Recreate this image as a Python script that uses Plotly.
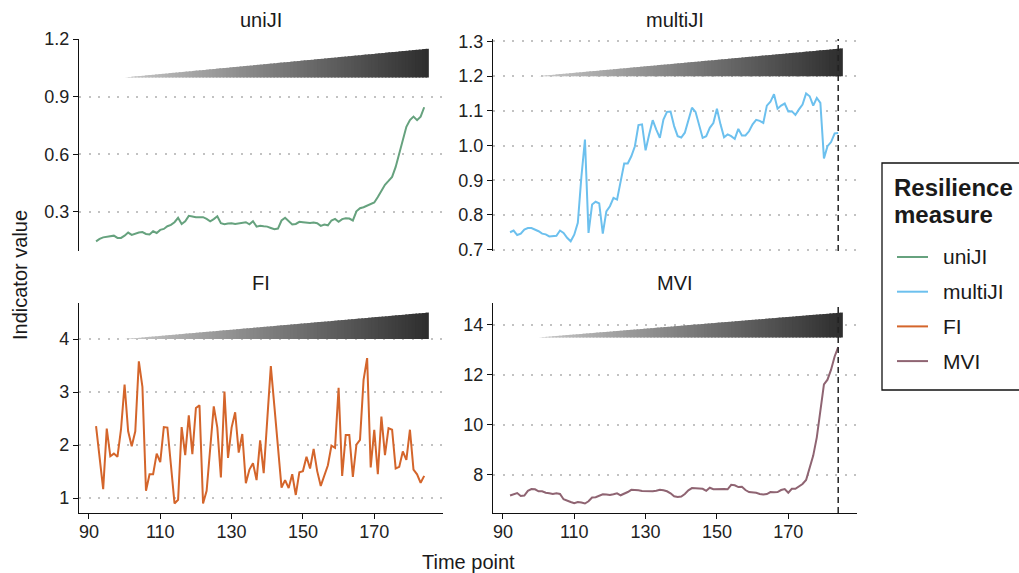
import numpy as np
import plotly.graph_objects as go

# ---------------- data ----------------
time = list(range(92, 185))

uniJI = [0.146, 0.159, 0.167, 0.170, 0.174, 0.176, 0.164, 0.164, 0.176, 0.192,
         0.180, 0.188, 0.192, 0.195, 0.185, 0.182, 0.199, 0.190, 0.206, 0.211,
         0.225, 0.232, 0.246, 0.269, 0.237, 0.251, 0.279, 0.276, 0.272, 0.272,
         0.272, 0.263, 0.251, 0.262, 0.277, 0.241, 0.235, 0.239, 0.241, 0.237,
         0.239, 0.242, 0.246, 0.235, 0.251, 0.223, 0.228, 0.225, 0.223, 0.216,
         0.209, 0.213, 0.255, 0.269, 0.251, 0.234, 0.237, 0.248, 0.246, 0.244,
         0.242, 0.244, 0.241, 0.227, 0.234, 0.230, 0.255, 0.263, 0.248, 0.262,
         0.267, 0.265, 0.255, 0.303, 0.319, 0.324, 0.331, 0.342, 0.349, 0.377,
         0.412, 0.441, 0.461, 0.482, 0.534, 0.604, 0.677, 0.743, 0.778, 0.796,
         0.778, 0.796, 0.845]

multiJI = [0.750, 0.755, 0.742, 0.746, 0.758, 0.762, 0.762, 0.758, 0.753, 0.746,
           0.744, 0.738, 0.739, 0.740, 0.755, 0.748, 0.734, 0.724, 0.743, 0.777,
           0.910, 1.017, 0.748, 0.830, 0.838, 0.833, 0.746, 0.810, 0.825, 0.849,
           0.844, 0.897, 0.948, 0.948, 0.969, 0.998, 1.059, 1.061, 0.986, 1.032,
           1.073, 1.046, 1.022, 1.075, 1.097, 1.098, 1.056, 1.027, 1.023, 1.037,
           1.070, 1.109, 1.097, 1.056, 1.022, 1.027, 1.051, 1.065, 1.106, 1.061,
           1.024, 1.032, 1.027, 1.019, 1.048, 1.029, 1.029, 1.041, 1.061, 1.074,
           1.071, 1.065, 1.115, 1.126, 1.148, 1.106, 1.115, 1.121, 1.098, 1.099,
           1.088, 1.104, 1.118, 1.150, 1.142, 1.115, 1.137, 1.123, 0.963, 0.998,
           1.010, 1.035, 1.036]

FI = [2.36, 1.75, 1.17, 2.31, 1.79, 1.84, 1.78, 2.30, 3.14, 2.26,
      1.98, 2.26, 3.58, 3.10, 1.14, 1.45, 1.45, 1.84, 1.68, 2.34,
      2.33, 1.62, 0.90, 0.97, 2.34, 1.81, 2.56, 1.83, 2.70, 2.75,
      0.90, 1.14, 1.93, 2.73, 2.33, 1.39, 3.01, 1.76, 2.33, 2.62,
      1.86, 2.21, 1.28, 1.54, 1.66, 1.34, 2.09, 1.47, 2.48, 3.49,
      2.73, 1.96, 1.20, 1.34, 1.19, 1.45, 1.06, 1.49, 1.51, 1.78,
      1.56, 1.93, 1.51, 1.23, 1.42, 1.62, 1.99, 1.95, 3.08, 1.42,
      2.19, 2.19, 1.40, 2.01, 2.10, 3.23, 3.64, 1.58, 2.29, 1.45,
      2.54, 1.81, 2.32, 2.29, 1.56, 1.59, 1.88, 1.72, 2.29, 1.54,
      1.45, 1.29, 1.42]

MVI = [7.17, 7.23, 7.27, 7.15, 7.17, 7.36, 7.43, 7.42, 7.34, 7.34,
       7.28, 7.26, 7.23, 7.26, 7.23, 7.02, 6.95, 6.91, 6.86, 6.91,
       6.89, 6.85, 6.94, 7.09, 7.10, 7.15, 7.22, 7.21, 7.19, 7.22,
       7.26, 7.18, 7.23, 7.31, 7.40, 7.40, 7.38, 7.35, 7.34, 7.34,
       7.34, 7.36, 7.40, 7.38, 7.34, 7.26, 7.14, 7.11, 7.13, 7.23,
       7.38, 7.47, 7.47, 7.44, 7.44, 7.36, 7.48, 7.42, 7.43, 7.44,
       7.43, 7.42, 7.60, 7.58, 7.51, 7.52, 7.39, 7.31, 7.30, 7.28,
       7.23, 7.21, 7.23, 7.31, 7.30, 7.31, 7.39, 7.43, 7.28, 7.44,
       7.44, 7.52, 7.63, 7.79, 8.24, 8.77, 9.50, 10.62, 11.62, 11.81,
       12.21, 12.74, 13.11]

measures = ["uniJI", "multiJI", "FI", "MVI"]
x_ticks = [90, 110, 130, 150, 170]
y_ticks = {"uniJI": [0.3, 0.6, 0.9, 1.2],
           "multiJI": [0.7, 0.8, 0.9, 1.0, 1.1, 1.2, 1.3],
           "FI": [1, 2, 3, 4],
           "MVI": [8, 10, 12, 14]}
y_ranges = {"uniJI": [0.096, 1.2005], "multiJI": [0.696, 1.307],
            "FI": [0.72, 4.68], "MVI": [6.47, 14.88]}
# gradient wedge (start, end in time; bottom/top in indicator units)
wedge_x = (100, 185.3)
wedge_y = {"uniJI": (1.0, 1.15), "multiJI": (1.2, 1.28),
           "FI": (4.0, 4.5), "MVI": (13.5, 14.5)}
tipping_point = 184
legend_title = ["Resilience", "measure"]

# ---------------- style ----------------
colors = {"uniJI": "#66a27e", "multiJI": "#6cc0ee", "FI": "#d4652b", "MVI": "#8f6472"}
FONT = "Liberation Sans, Arial, sans-serif"
W, H = 1019, 573
xdom = {"L": [79 / W, 443 / W], "R": [493 / W, 857 / W]}
ydom = {"T": [1 - 251 / H, 1 - 39 / H], "B": [1 - 513 / H, 1 - 303 / H]}
pos = {"uniJI": ("L", "T"), "multiJI": ("R", "T"), "FI": ("L", "B"), "MVI": ("R", "B")}
x_range = [87.22, 189.27]
TICK = 18
TITLE = 20
TXT = "#1a1a1a"

fig = go.Figure()
layout = {}
for i, m in enumerate(measures, start=1):
    sfx = "" if i == 1 else str(i)
    vals = {"uniJI": uniJI, "multiJI": multiJI, "FI": FI, "MVI": MVI}[m]
    fig.add_trace(go.Scatter(x=time, y=vals, mode="lines", name=m, showlegend=False,
                             line=dict(color=colors[m], width=2),
                             xaxis="x" + sfx, yaxis="y" + sfx))
    cx, cy = pos[m]
    bottom = cy == "B"
    layout["xaxis" + sfx] = dict(
        domain=xdom[cx], anchor="y" + sfx, range=x_range,
        showgrid=False, zeroline=False,
        showline=bottom, linecolor="#111", linewidth=1.3,
        ticks="outside" if bottom else "", ticklen=5, tickwidth=1.2, tickcolor="#111",
        tickvals=x_ticks if bottom else [], showticklabels=bottom,
        ticklabelstandoff=-3,
        tickfont=dict(family=FONT, size=TICK, color="#222"))
    layout["yaxis" + sfx] = dict(
        domain=ydom[cy], anchor="x" + sfx, range=y_ranges[m],
        showgrid=True, gridcolor="#c2c2c2", gridwidth=2, griddash="2px,7.5px",
        zeroline=False, showline=True, linecolor="#111", linewidth=1.3,
        ticks="outside", ticklen=5, tickwidth=1.2, tickcolor="#111",
        tickvals=y_ticks[m], tickformat=".1f" if m == "multiJI" else None,
        tickfont=dict(family=FONT, size=TICK, color="#222"))

    # gradient wedge made of thin slices
    lo, hi = wedge_y[m]
    x0, x1 = wedge_x
    N = 90
    xs = np.linspace(x0, x1, N + 1)
    c0, c1 = np.array([200, 200, 200]), np.array([46, 46, 46])
    top = lambda x: lo + (hi - lo) * (x - x0) / (x1 - x0)
    for k in range(N):
        a, b = xs[k], xs[k + 1]
        e = min(b + 0.5 * (b - a), x1)
        f = (k + 0.5) / N
        c = (c0 + (c1 - c0) * f).astype(int)
        fig.add_shape(type="path",
                      path=f"M {a},{lo} L {e},{lo} L {e},{top(e)} L {a},{top(a)} Z",
                      xref="x" + sfx, yref="y" + sfx,
                      fillcolor=f"rgb({c[0]},{c[1]},{c[2]})", line_width=0, layer="above")

    if cx == "R":
        fig.add_shape(type="line", x0=tipping_point, x1=tipping_point, y0=0, y1=1,
                      xref="x" + sfx, yref="y" + sfx + " domain",
                      line=dict(color="#222", width=1.5, dash="6px,4px"), layer="above")

    # panel title
    fig.add_annotation(text=m, x=(xdom[cx][0] + xdom[cx][1]) / 2,
                       y=1 - (20 if cy == "T" else 283) / H,
                       xref="paper", yref="paper", showarrow=False,
                       xanchor="center", yanchor="middle",
                       font=dict(family=FONT, size=TITLE, color=TXT))

fig.add_annotation(text="Indicator value", x=20 / W, y=1 - 275 / H, xref="paper", yref="paper",
                   showarrow=False, textangle=-90, xanchor="center", yanchor="middle",
                   font=dict(family=FONT, size=TITLE, color=TXT))
fig.add_annotation(text="Time point", x=468 / W, y=1 - 562 / H, xref="paper", yref="paper",
                   showarrow=False, xanchor="center", yanchor="middle",
                   font=dict(family=FONT, size=TITLE, color=TXT))

# ---------------- legend (drawn in paper space) ----------------
fig.add_shape(type="rect", xref="paper", yref="paper",
              x0=882 / W, x1=1030 / W, y0=1 - 390 / H, y1=1 - 163 / H,
              line=dict(color="#111", width=1.3), fillcolor="white", layer="below")
for j, t in enumerate(legend_title):
    fig.add_annotation(text=f"<b>{t}</b>", x=892 / W, y=1 - (187 + 27 * j) / H,
                       xref="paper", yref="paper", showarrow=False,
                       xanchor="left", yanchor="middle",
                       font=dict(family=FONT, size=24, color=TXT))
for j, m in enumerate(measures):
    yy = 1 - (257 + 34.7 * j) / H
    fig.add_shape(type="line", xref="paper", yref="paper",
                  x0=897 / W, x1=928 / W, y0=yy, y1=yy,
                  line=dict(color=colors[m], width=2))
    fig.add_annotation(text=m, x=941 / W, y=yy, xref="paper", yref="paper",
                       showarrow=False, xanchor="left", yanchor="middle",
                       font=dict(family=FONT, size=21, color=TXT))

fig.update_layout(
    width=W, height=H, autosize=False,
    margin=dict(l=0, r=0, t=0, b=0, pad=0, autoexpand=False),
    paper_bgcolor="white", plot_bgcolor="white",
    font=dict(family=FONT, color=TXT),
    showlegend=False,
    **layout)

fig.write_html("out.html")
